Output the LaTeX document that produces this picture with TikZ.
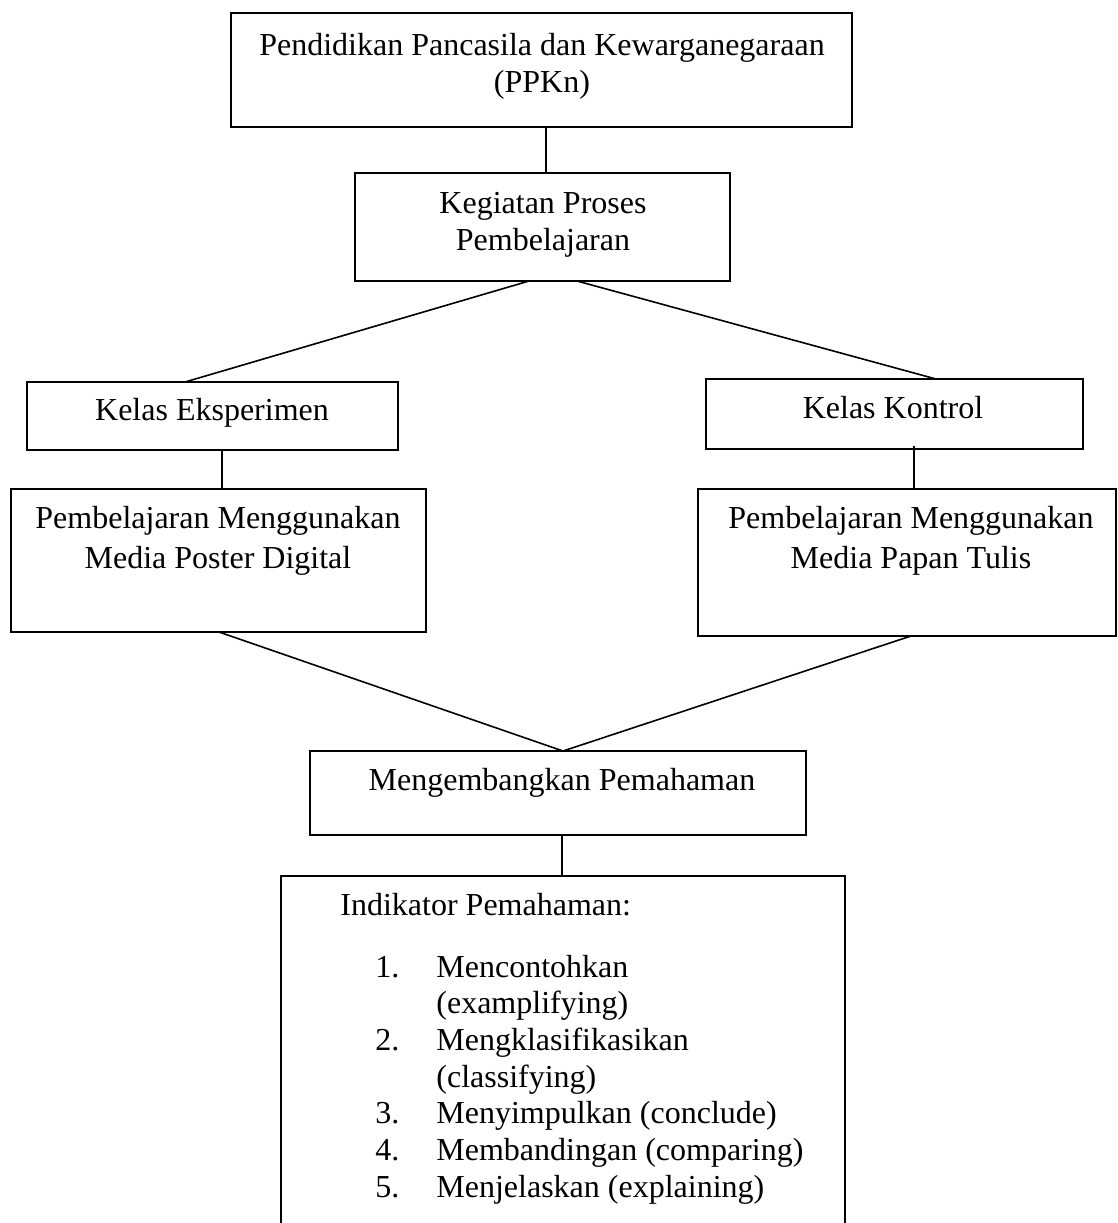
\documentclass[tikz,border=0pt]{standalone}
\usepackage{fontspec}
\setmainfont{Liberation Serif}
\usetikzlibrary{calc}
\tikzset{
  boxnode/.style={draw, line width=0.9pt, rectangle, inner sep=0pt, outer sep=0pt, anchor=north west},
  openbox/.style={rectangle, inner sep=0pt, outer sep=0pt, anchor=north west},
  lbl/.style={anchor=base, inner sep=0pt, font=\fontsize{16pt}{18.35pt}\selectfont},
  lblw/.style={anchor=base west, inner sep=0pt, font=\fontsize{16pt}{18.35pt}\selectfont},
  conn/.style={line width=0.8pt}
}
\begin{document}
\begin{tikzpicture}[x=0.5pt, y=-0.5pt]
\useasboundingbox (0,0) rectangle (1118,1223);
% boxes
\node[boxnode, minimum width=310.5pt, minimum height=57pt] (b1) at (231,13) {};
\node[boxnode, minimum width=187.5pt, minimum height=54pt] (b2) at (355,173) {};
\node[boxnode, minimum width=185.5pt, minimum height=34pt] (b3) at (27,382) {};
\node[boxnode, minimum width=188.5pt, minimum height=35pt] (b4) at (706,379) {};
\node[boxnode, minimum width=207.5pt, minimum height=71.5pt] (b5) at (11,489) {};
\node[boxnode, minimum width=209pt, minimum height=73.5pt] (b6) at (698,489) {};
\node[boxnode, minimum width=248pt, minimum height=42pt] (b7) at (310,751) {};
\node[openbox, minimum width=282pt, minimum height=173.5pt] (b8) at (281,876) {};
\draw[line width=0.9pt] (b8.south west) -- (b8.north west) -- (b8.north east) -- (b8.south east);
% texts
\node[lbl] (t1a) at (542,55) {Pendidikan Pancasila dan Kewarganegaraan};
\node[lbl] (t1b) at (542,92) {(PPKn)};
\node[lbl] (t2a) at (543,213) {Kegiatan Proses};
\node[lbl] (t2b) at (543,250) {Pembelajaran};
\node[lbl] (t3) at (212,420) {Kelas Eksperimen};
\node[lbl] (t4) at (893,418) {Kelas Kontrol};
\node[lbl] (t5a) at (218,528) {Pembelajaran Menggunakan};
\node[lbl] (t5b) at (218,568) {Media Poster Digital};
\node[lbl] (t6a) at (911,528) {Pembelajaran Menggunakan};
\node[lbl] (t6b) at (911,568) {Media Papan Tulis};
\node[lbl] (t7) at (562,790) {Mengembangkan Pemahaman};
\node[lblw] (t8) at (340,915) {Indikator Pemahaman:};
\node[lblw] (n1) at (375,977) {1.};
\node[lblw] (i1a) at (436,977) {Mencontohkan};
\node[lblw] (i1b) at (436,1013) {(examplifying)};
\node[lblw] (n2) at (375,1050) {2.};
\node[lblw] (i2a) at (436,1050) {Mengklasifikasikan};
\node[lblw] (i2b) at (436,1087) {(classifying)};
\node[lblw] (n3) at (375,1123) {3.};
\node[lblw] (i3) at (436,1123) {Menyimpulkan (conclude)};
\node[lblw] (n4) at (375,1160) {4.};
\node[lblw] (i4) at (436,1160) {Membandingan (comparing)};
\node[lblw] (n5) at (375,1197) {5.};
\node[lblw] (i5) at (436,1197) {Menjelaskan (explaining)};
% connectors
\coordinate (c1) at ($(b1.south west)+(315,0)$);
\draw[conn] (c1) -- (c1 |- b2.north);
\draw[conn] ($(b2.south west)+(174,0)$) -- ($(b3.north west)+(158,0)$);
\draw[conn] ($(b2.south west)+(222,0)$) -- ($(b4.north west)+(230,0)$);
\coordinate (c3) at ($(b3.south west)+(195,0)$);
\draw[conn] (c3) -- (c3 |- b5.north);
\coordinate (c4) at ($(b4.south west)+(208,-3)$);
\draw[conn] (c4) -- (c4 |- b6.north);
\coordinate (c7) at ($(b7.north west)+(253,0)$);
\draw[conn] ($(b5.south west)+(208,0)$) -- (c7);
\draw[conn] ($(b6.south west)+(213,0)$) -- (c7);
\coordinate (c8) at ($(b8.north west)+(281,0)$);
\draw[conn] (c8 |- b7.south) -- (c8);
\end{tikzpicture}
\end{document}
